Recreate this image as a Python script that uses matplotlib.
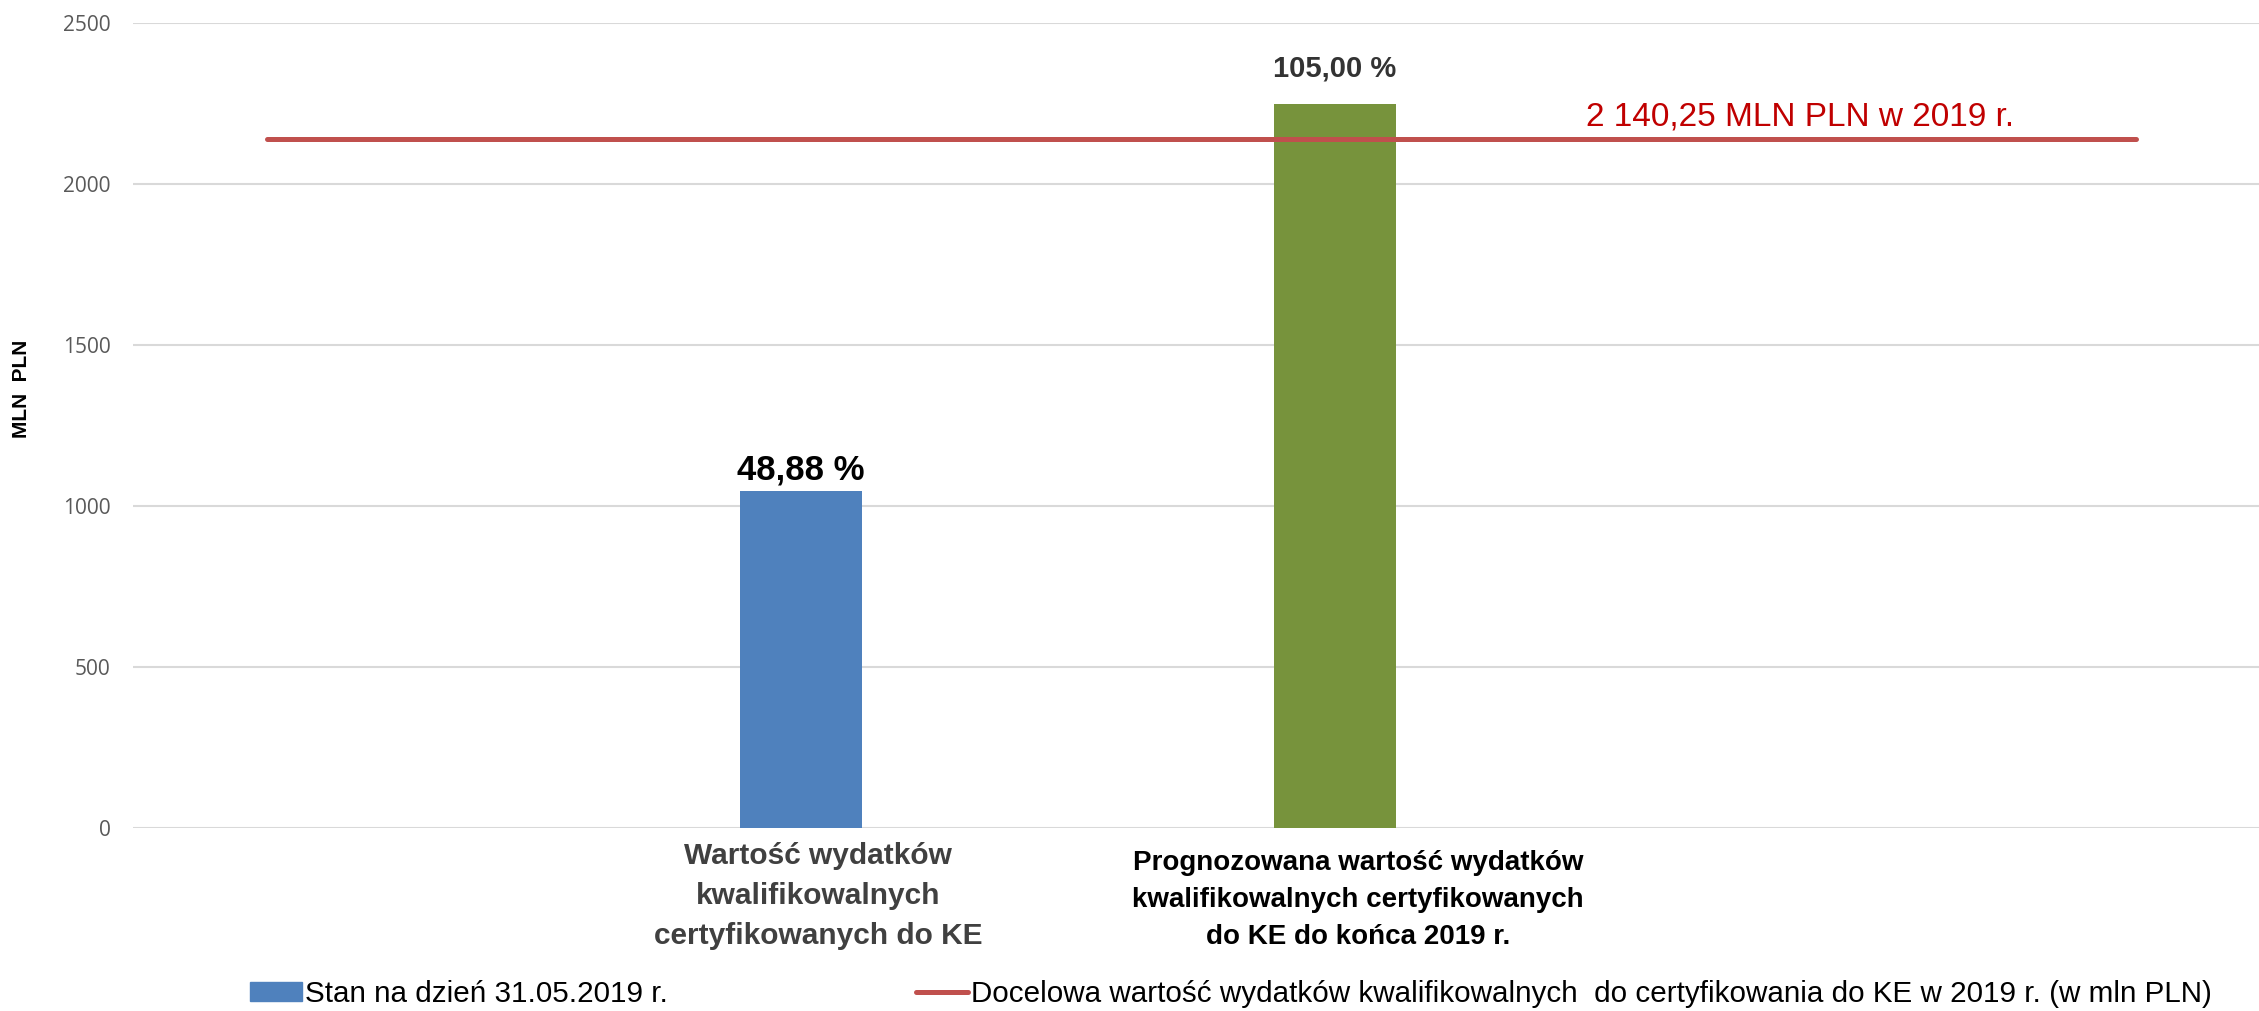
import matplotlib.pyplot as plt
import matplotlib.transforms as mtransforms
from matplotlib.patches import Patch
from matplotlib.lines import Line2D

# data
categories = ['Wartość wydatków\nkwalifikowalnych\ncertyfikowanych do KE',
              'Prognozowana wartość wydatków\nkwalifikowalnych certyfikowanych\ndo KE do końca 2019 r.']
values = [1046.15, 2247.26]
pct_labels = ['48,88 %', '105,00 %']
target = 2140.25
target_label = '2 140,25 MLN PLN w 2019 r.'
yticks = [0, 500, 1000, 1500, 2000, 2500]

plt.rcParams['font.family'] = ['Liberation Sans', 'DejaVu Sans']

fig = plt.figure(figsize=(22.59, 10.11), dpi=100)
ax = fig.add_axes([133 / 2259, 183 / 1011, 1 - 133 / 2259, 805 / 1011])

xpos = [1, 2]
bars = ax.bar(xpos, values, width=0.228, color=['#4F81BD', '#77933C'], zorder=2)

# target line
ax.plot([0, 3.5], [target, target], color='#C0504D', linewidth=3.6, zorder=3,
        solid_capstyle='round')
ax.text(2.47, 2183, target_label, color='#C00000', fontsize=24, va='baseline', ha='left')

# percent labels
ax.annotate(pct_labels[0], (xpos[0], values[0]), xytext=(0, 3), textcoords='offset points',
            ha='center', va='bottom', fontsize=25, fontweight='bold', color='black')
ax.annotate(pct_labels[1], (xpos[1], values[1]), xytext=(0, 16), textcoords='offset points',
            ha='center', va='bottom', fontsize=21, fontweight='bold', color='#333333')

ax.set_xlim(-0.251, 3.73)
ax.set_ylim(0, 2500)
ax.set_yticks(yticks)
ax.set_yticklabels([str(t) for t in yticks], family='Open Sans', fontsize=15, color='#595959')
ax.tick_params(axis='y', length=0, pad=16)
ax.grid(axis='y', color='#D9D9D9', linewidth=1.5, zorder=0)
ax.set_axisbelow(True)
for s in ax.spines.values():
    s.set_visible(False)

ax.set_xticks(xpos)
ax.set_xticklabels(categories, fontweight='bold', linespacing=1.55)
ax.tick_params(axis='x', length=0, pad=10)
xl = ax.get_xticklabels()
xl[0].set_color('#404040')
xl[0].set_fontsize(21.5)
xl[1].set_color('black')
xl[1].set_fontsize(20)
for lab, dx, dy in zip(xl, [17, 23], [0, -8]):
    lab.set_transform(lab.get_transform() +
                      mtransforms.ScaledTranslation(dx / 100, dy / 100, fig.dpi_scale_trans))

fig.text(22 / 2259, 1 - 389 / 1011, 'MLN  PLN', rotation=90, ha='center', va='center',
         fontsize=15, fontweight='bold', color='black')

handles = [Patch(color='#4F81BD'),
           Line2D([0], [0], color='#C0504D', linewidth=3.6, solid_capstyle='round')]
labels = ['Stan na dzień 31.05.2019 r.',
          'Docelowa wartość wydatków kwalifikowalnych  do certyfikowania do KE w 2019 r. (w mln PLN)']
fig.legend(handles, labels, loc='center left', bbox_to_anchor=(250 / 2259, 17 / 1011),
           ncol=2, frameon=False, fontsize=21.3, handlelength=1.75, handleheight=0.65,
           handletextpad=0.1, columnspacing=8.4, borderpad=0, borderaxespad=0)

fig.savefig('out.png', dpi=100)
